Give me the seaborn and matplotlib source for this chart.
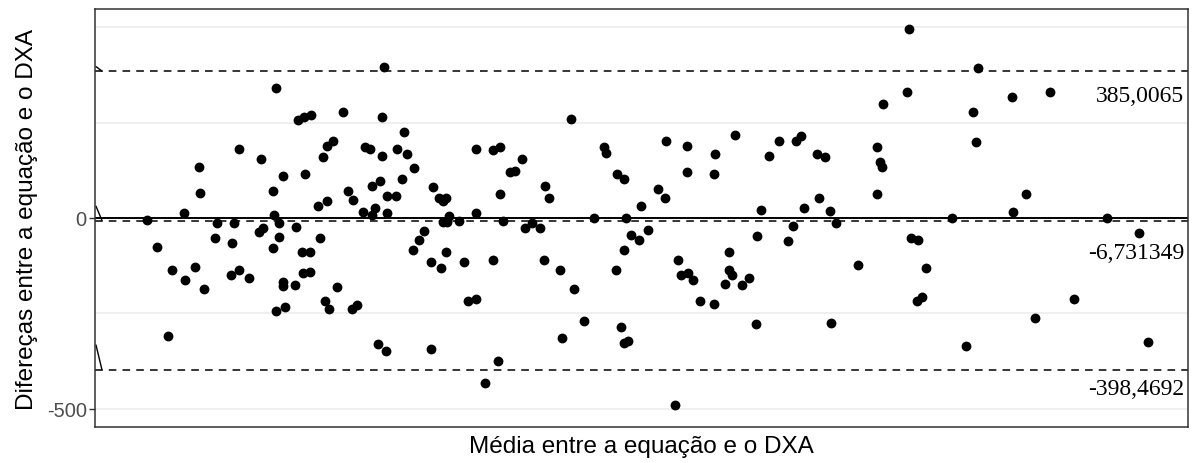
import numpy as np
import pandas as pd
import matplotlib
matplotlib.use("Agg")
import matplotlib.pyplot as plt
import seaborn as sns

# Mean between equation and DXA (x, arbitrary units)
media = [
    146.7, 156.7, 168.3, 172, 183.7, 185, 195.3, 199, 200.3, 203.7, 215.3, 217.3, 231, 232.3,
    234.3, 239, 239.3, 249.3, 259, 260.7, 263, 273, 273, 274, 276, 276, 279, 279.3, 283, 283,
    283.3, 284.7, 295, 296, 297.7, 301.7, 303.3, 304.3, 304.7, 310, 310.7, 310,
    318.3, 320, 323.3, 325, 326.7, 326.7, 328.7, 333.3, 336.7, 343.3, 348.3, 351.7, 353.3,
    356.7, 363.3, 365, 370, 371.7, 371.7, 375.3, 378.3, 380, 382, 382, 384, 385.7, 386.7,
    387, 395.7, 397.3, 402.3, 404, 407.3, 412.7, 414.3, 419, 424, 431, 431, 432.7, 439.3,
    441, 442.7, 442.7, 446, 446, 447.3, 449.3, 459.3, 464.3, 467.7, 476, 476, 476, 485,
    493, 493, 498.3, 500, 500, 503.3, 510, 515, 521.7, 525,
    532.3, 540, 544, 545.3, 548.7, 560.3, 562.3, 570.7, 574, 584, 594.3, 604, 605.7, 615.7,
    617.3, 621, 624, 624, 624, 627.7, 626, 631, 639.3, 641, 647.7, 657.7, 664.7, 666.3,
    674.7, 678, 681.3, 686.7, 686.7, 688, 693.3, 700, 713.7, 713.7, 715.3, 725, 728.7,
    728.7, 732, 735, 741.7,
    749, 755.7, 757.3, 760.7, 769.3, 779.3, 787.7, 792.7, 796, 801, 804.3, 817.3, 819.3,
    825, 829.7, 831.3, 836.3, 858, 876.7, 876.7, 880.3, 882, 883.3, 907, 908.7, 911.3,
    918, 917, 922, 925.7, 952.3,
    966, 972.7, 976, 977.7, 1011.7, 1013.3, 1026.3, 1034.7, 1050.3, 1073.7, 1107.3, 1139,
    1147.7,
]
# Difference between equation and DXA
diferenca = [
    -4, -75, -309, -136, 14, -163, -128, 133, 66, -186, -52, -12, -149, -66,
    -12, 181, -136, -158, -36, 155, -26, 71, -79, 9, 340, -243, -13, -49, 111, -169,
    -177, -234, -176, -23, 256, -88, -145, 266, 116, -88, 270, -142,
    32, -52, 159, -217, 190, 44, -239, 202, -181, 277, 71, -239, 48,
    -227, 15, 186, 181, 85, 8, 27, -330, 96, 265, 163, 397, -348, 58,
    14, 58, 181, 101, 225, 168, -83, 132, -57, -35, -115, -343, 80, 53,
    -132, 45, -11, 53, -88, -11, 4, -9, -115, -217, 181, 14, -212, -433,
    -110, 177, -374, 186, 62, -9, 120, 122, 155, -26,
    -13, -26, -110, 84, 52, -136, -314, 260, -186, -270, -1, 186, 170, -136,
    116, -287, 101, -84, -327, -323, -1, -44, -57, 31, -31, 75, 52, 203,
    -490, -110, -149, 189, 120, -145, -163, -217, -225, 115, 168, -173, -89,
    -136, -149, 217, -176,
    -158, -277, -48, 22, 163, 203, -61, -22, 203, 216, 26, 169, 52,
    159, 18, -274, -13, -123, 186, 62, 146, 135, 300, 330, 495, -52,
    -57, -217, -208, -132, 0,
    -336, 278, 198, 392, 317, 17, 62, -261, 331, -212, 0, -39,
    -326,
]

limites = [385.0065, -6.731349, -398.4692]
limites_rotulos = ["385,0065", "-6,731349", "-398,4692"]
rotulo_y = [320, -90, -448]
# little diagonal marks at the left edge (start offsets above each line)
marca_inicio = [397, 31, -333]

y_ticks = [-500, 0]
y_tick_labels = ["-500", "0"]
grid_y = [-500, -250, 0, 250, 500]

df = pd.DataFrame({"media": media, "diferenca": diferenca})

sns.set_theme(style="white")
plt.rcParams["font.family"] = ["Liberation Sans", "DejaVu Sans"]

fig = plt.figure(figsize=(11.99, 4.64), dpi=100)
ax = fig.add_axes([95 / 1199, 1 - 428 / 464, (1188 - 95) / 1199, (428 - 10) / 464])

xmin, xmax = 95, 1188
ax.set_xlim(xmin, xmax)
ax.set_ylim(-548, 548)

for g in grid_y:
    ax.axhline(g, color="#ebebeb", lw=1.1, zorder=0)

ax.axhline(0, color="black", lw=1.4, zorder=1)
for v in limites:
    ax.axhline(v, color="black", lw=1.1, ls=(0, (5, 4)), zorder=1)

for v, s in zip(limites, marca_inicio):
    ax.plot([xmin + 1, xmin + 7], [s, v], color="black", lw=1.0, zorder=1, clip_on=False)

sns.scatterplot(data=df, x="media", y="diferenca", ax=ax, color="black",
                s=50, edgecolor="black", linewidth=0, zorder=3, legend=False)

for ty, lab in zip(rotulo_y, limites_rotulos):
    ax.text(1184, ty, lab, ha="right", va="center", fontsize=17,
            family="Liberation Serif", color="black")

ax.set_yticks(y_ticks)
ax.set_yticklabels(y_tick_labels)
ax.set_xticks([])
ax.tick_params(axis="y", left=True, length=4, width=1, color="#333333",
               labelsize=14.5, labelcolor="#4d4d4d", pad=2)

for sp in ax.spines.values():
    sp.set_visible(True)
    sp.set_color("#333333")
    sp.set_linewidth(1.1)

ax.set_xlabel("Média entre a equação e o DXA", fontsize=17.5, color="black", labelpad=6)
ax.set_ylabel("Difereças entre a equação e o DXA", fontsize=17.5, color="black", labelpad=6)

fig.savefig("out.png", dpi=100)
